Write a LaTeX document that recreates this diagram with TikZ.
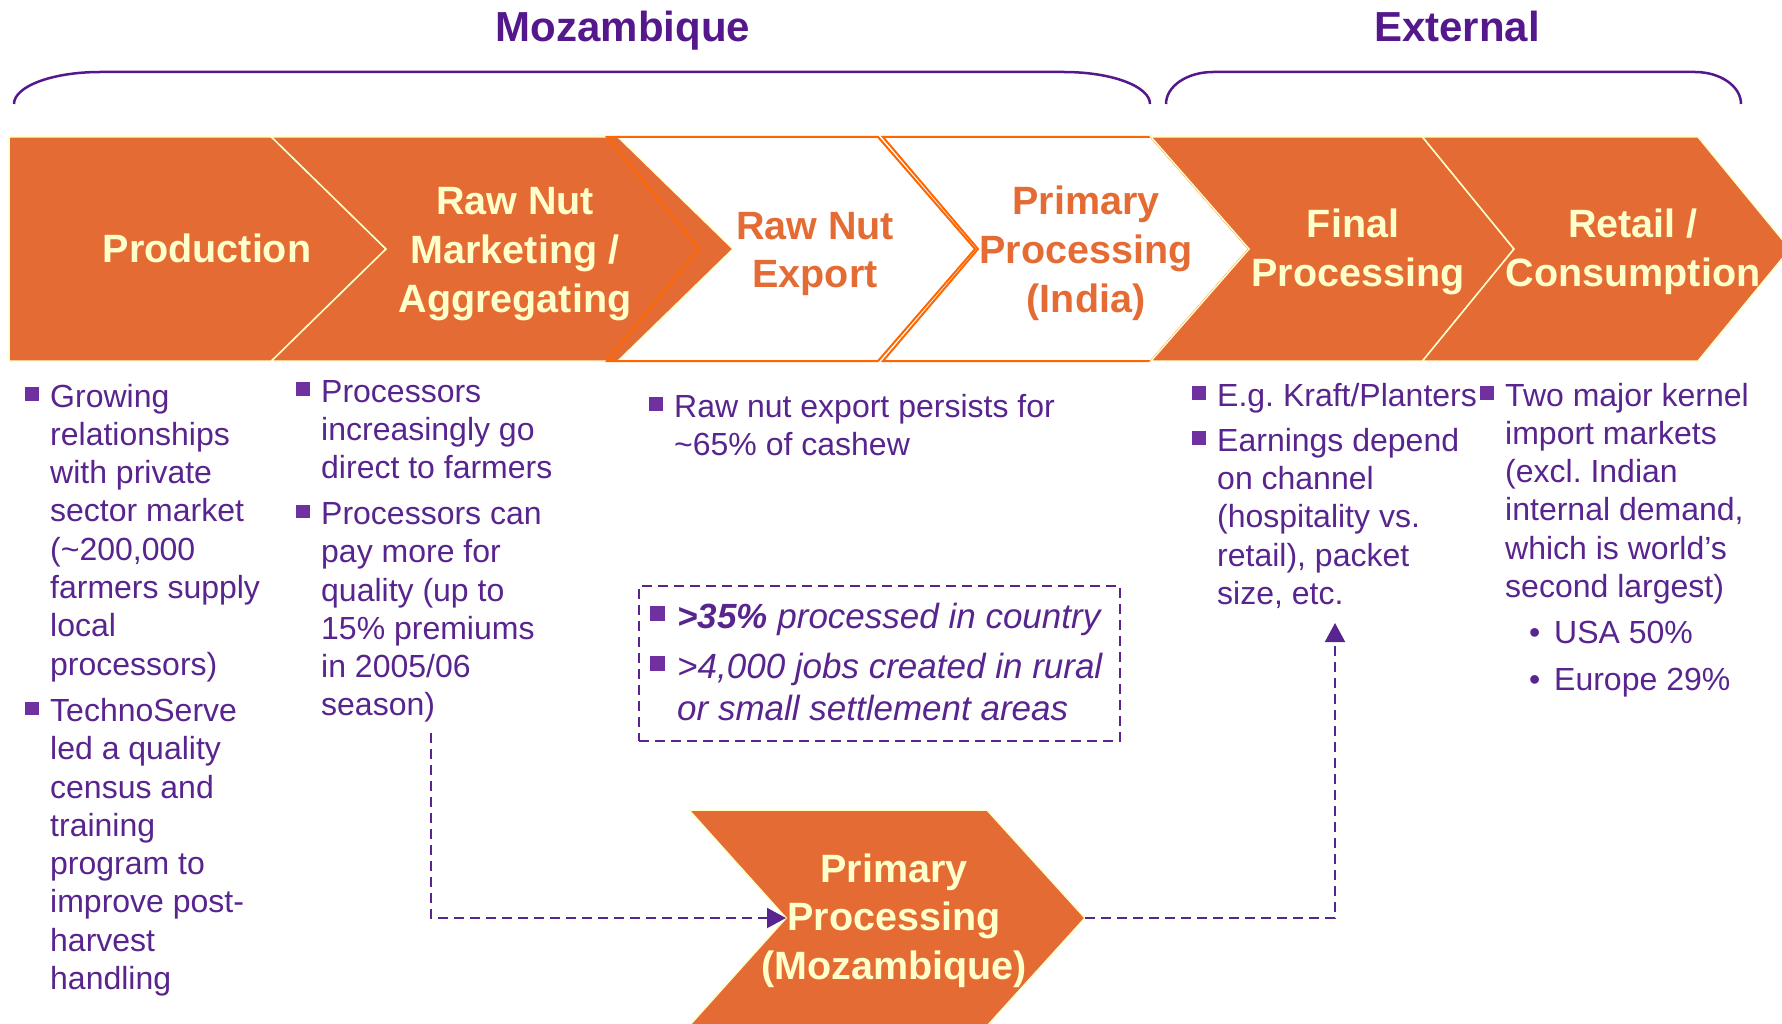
\documentclass[tikz,border=0pt]{standalone}
\usepackage{fontspec}
\setmainfont{Liberation Sans}
\usepackage{xcolor}
\usepackage{tikz}
\usetikzlibrary{positioning, arrows.meta, calc}
\definecolor{chevorange}{RGB}{228,108,52}
\definecolor{edgeorange}{RGB}{255,102,0}
\definecolor{paleyellow}{RGB}{255,255,204}
\definecolor{headpurple}{RGB}{84,24,140}
\definecolor{textpurple}{RGB}{88,36,142}
\definecolor{bulletpurple}{RGB}{112,48,160}
\newcommand{\sqbullet}{\llap{\textcolor{bulletpurple}{\rule[0.19em]{0.43em}{0.43em}}\hspace{0.36em}}}
\frenchspacing

\begin{document}
\begin{tikzpicture}[x=1pt, y=-1pt,
  orangechev/.style={fill=chevorange, draw=paleyellow, line width=1.5pt},
  whitechev/.style={draw=edgeorange, line width=2pt},
  headlight/.style={text=paleyellow, font=\fontsize{39.5}{48.5}\selectfont\bfseries, align=center, inner sep=0pt},
  headdark/.style={text=chevorange, font=\fontsize{39.5}{48.5}\selectfont\bfseries, align=center, inner sep=0pt},
  regiontitle/.style={text=headpurple, font=\fontsize{42}{50}\selectfont\bfseries, inner sep=0pt},
  regionbrace/.style={draw=headpurple, line width=2.5pt},
  bodytext/.style={text=textpurple, font=\fontsize{32}{38.3}\selectfont, align=left, inner sep=0pt},
  boxtext/.style={text=textpurple, font=\fontsize{35}{42}\selectfont\itshape, align=left, inner sep=0pt},
  dashframe/.style={draw=textpurple, line width=2pt, dash pattern=on 10pt off 6pt},
  dashlink/.style={draw=textpurple, line width=2pt, dash pattern=on 10pt off 6pt, -{Triangle[length=19pt, width=20pt]}}]
\useasboundingbox (0,0) rectangle (1782,1024);
\pgfmathsetmacro{\rowtop}{137}
\pgfmathsetmacro{\rowmid}{249}
\pgfmathsetmacro{\rowbot}{361}

\node[regiontitle, anchor=base] (moztitle) at (623,42) {Mozambique};
\node[regiontitle, anchor=base] (exttitle) at (1457,42) {External};
\draw[regionbrace] (14,104) .. controls (14,86.3) and (52.5,72) .. (100,72) -- (1064,72) .. controls (1111.5,72) and (1150,86.3) .. (1150,104);
\draw[regionbrace] (1166,104) .. controls (1166,86.3) and (1187,72) .. (1213,72) -- (1695,72) .. controls (1720.4,72) and (1741,86.3) .. (1741,104);

\draw[orangechev] (9,\rowtop) -- (271.5,\rowtop) -- (386,\rowmid) -- (271.5,\rowbot) -- (9,\rowbot) -- cycle;
\draw[orangechev] (271.5,\rowtop) -- (618,\rowtop) -- (733,\rowmid) -- (618,\rowbot) -- (271.5,\rowbot) -- (386,\rowmid) -- cycle;
\draw[whitechev] (607,\rowtop) -- (878,\rowtop) -- (975,\rowmid) -- (878,\rowbot) -- (607,\rowbot) -- (699,\rowmid) -- cycle;
\draw[whitechev] (883,\rowtop) -- (1151,\rowtop) -- (1249,\rowmid) -- (1151,\rowbot) -- (883,\rowbot) -- (978,\rowmid) -- cycle;
\draw[orangechev] (1151,\rowtop) -- (1422.5,\rowtop) -- (1514,\rowmid) -- (1422.5,\rowbot) -- (1151,\rowbot) -- (1249,\rowmid) -- cycle;
\draw[orangechev] (1422.5,\rowtop) -- (1698,\rowtop) -- (1790,\rowmid) -- (1698,\rowbot) -- (1422.5,\rowbot) -- (1514,\rowmid) -- cycle;
\draw[orangechev] (689,810) -- (987,810) -- (1085,918) coordinate (moztip) -- (987,1026) -- (689,1026) -- (786,918) coordinate (moznotch) -- cycle;

\node[headlight, anchor=base] (prodhead) at (207,263) {Production};
\node[headlight, anchor=base] (markethead) at (515,312) {Raw Nut\\Marketing /\\Aggregating};
\node[headdark, anchor=base] (exporthead) at (815,287.5) {Raw Nut\\Export};
\node[headdark, anchor=base] (indiahead) at (1086,312) {Primary\\Processing\\(India)};
\node[headlight, anchor=base] (finalhead) at (1358,286.5) {Final\hspace*{10pt}\\Processing};
\node[headlight, anchor=base] (retailhead) at (1633,286.5) {Retail /\\Consumption};
\node[headlight, anchor=base] (mozhead) at (894,979) {Primary\\Processing\\(Mozambique)};

\node[bodytext, anchor=base west] (prodtext) at (50,989.5) {\sqbullet Growing\\relationships\\with private\\sector market\\(\textasciitilde 200,000\\farmers supply\\local\\processors)\\[8pt]\sqbullet TechnoServe\\led a quality\\census and\\training\\program to\\improve post-\\harvest\\handling};
\node[bodytext, anchor=base west] (markettext) at (321,715.9) {\sqbullet Processors\\increasingly go\\direct to farmers\\[7.5pt]\sqbullet Processors can\\pay more for\\quality (up to\\15\% premiums\\in 2005/06\\season)};
\node[bodytext, anchor=base west] (exporttext) at (674,455.3) {\sqbullet Raw nut export persists for\\\textasciitilde 65\% of cashew};
\node[bodytext, anchor=base west] (finaltext) at (1217,604.5) {\sqbullet E.g. Kraft/Planters\\[7pt]\sqbullet Earnings depend\\on channel\\(hospitality vs.\\retail), packet\\size, etc.};
\node[bodytext, anchor=base west] (retailtext) at (1505,597.5) {\sqbullet Two major kernel\\import markets\\(excl. Indian\\internal demand,\\which is world’s\\second largest)};
\node[bodytext, anchor=base west] (retailsplit) at (1554,690.3) {\llap{•\hspace{14pt}}USA 50\%\\[9pt]\llap{•\hspace{14pt}}Europe 29\%};

\node[dashframe, minimum width=481pt, minimum height=155pt, anchor=north west, inner sep=0pt] (keyframe) at (638,585) {};
\node[boxtext, anchor=base west] (keytext) at (677,720) {\sqbullet\textbf{>35\%} processed in country\\[8pt]\sqbullet >4,000 jobs created in rural\\or small settlement areas};

\coordinate (marketfoot) at (431,733);
\coordinate (finalfoot) at (1335,623);
\draw[dashlink] (marketfoot) |- (moznotch);
\draw[dashlink] (moztip) -| (finalfoot);

\end{tikzpicture}
\end{document}
